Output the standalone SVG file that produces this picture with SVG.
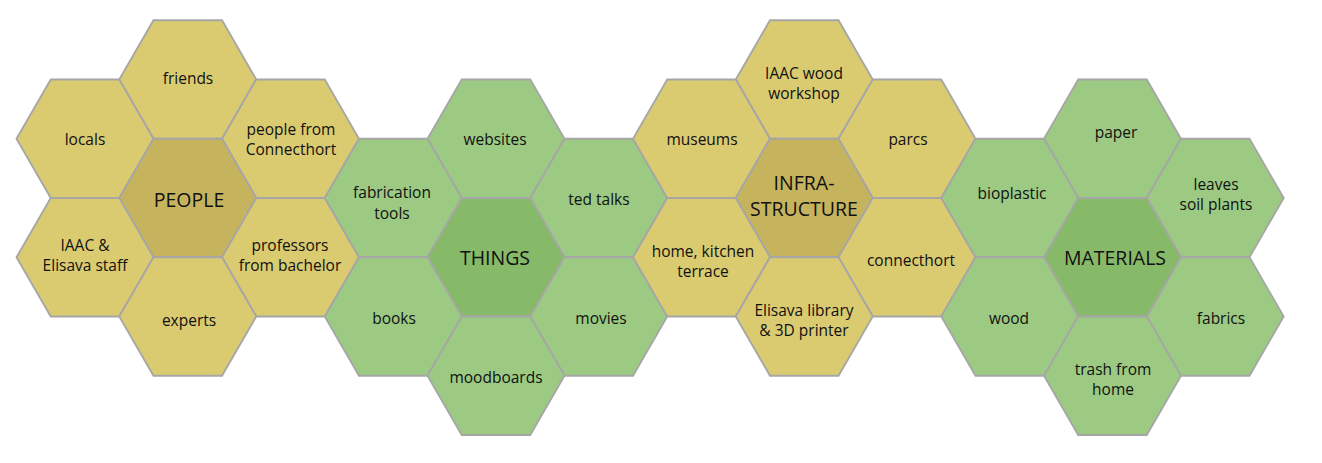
<svg xmlns="http://www.w3.org/2000/svg" xmlns:xlink="http://www.w3.org/1999/xlink" width="1322" height="463" viewBox="0 0 1322 463">
<style>
.hex{stroke:#A6A6A6;stroke-width:1.8;stroke-linejoin:miter}
.y{fill:#DACB71}
.yc{fill:#C5B45D}
.g{fill:#9CCA83}
.gc{fill:#87BA68}
text{font-family:"Open Sans","Noto Sans","Liberation Sans",sans-serif;fill:#111;text-anchor:middle}
.l{font-size:15.5px}
.t{font-size:19.5px}
</style>
<defs>
<polygon id="hx" points="-68.5,0 -34.25,-59.25 34.25,-59.25 68.5,0 34.25,59.25 -34.25,59.25"/>
</defs>
<rect width="1322" height="463" fill="#fff"/>
<g id="people-cluster">
<g id="friends"><use xlink:href="#hx" href="#hx" class="hex y" x="187.75" y="79.5"/><text class="l" x="188" y="84">friends</text></g>
<g id="locals"><use href="#hx" xlink:href="#hx" class="hex y" x="85" y="138.75"/><text class="l" x="85" y="145">locals</text></g>
<g id="people-from-connecthort"><use href="#hx" xlink:href="#hx" class="hex y" x="290.5" y="138.75"/><text class="l" x="291" y="135">people from</text><text class="l" x="291" y="155">Connecthort</text></g>
<g id="people"><use href="#hx" xlink:href="#hx" class="hex yc" x="187.75" y="198"/><text class="t" x="189" y="207">PEOPLE</text></g>
<g id="iaac-elisava-staff"><use href="#hx" xlink:href="#hx" class="hex y" x="85" y="257.25"/><text class="l" x="85" y="251">IAAC &amp;</text><text class="l" x="85" y="271">Elisava staff</text></g>
<g id="professors"><use href="#hx" xlink:href="#hx" class="hex y" x="290.5" y="257.25"/><text class="l" x="290" y="251">professors</text><text class="l" x="290" y="271">from bachelor</text></g>
<g id="experts"><use href="#hx" xlink:href="#hx" class="hex y" x="187.75" y="316.5"/><text class="l" x="189" y="326">experts</text></g>
</g>
<g id="things-cluster">
<g id="websites"><use href="#hx" xlink:href="#hx" class="hex g" x="496" y="138.75"/><text class="l" x="495" y="145">websites</text></g>
<g id="fabrication-tools"><use href="#hx" xlink:href="#hx" class="hex g" x="393.25" y="198"/><text class="l" x="392" y="198">fabrication</text><text class="l" x="392" y="219">tools</text></g>
<g id="ted-talks"><use href="#hx" xlink:href="#hx" class="hex g" x="598.75" y="198"/><text class="l" x="599" y="205">ted talks</text></g>
<g id="things"><use href="#hx" xlink:href="#hx" class="hex gc" x="496" y="257.25"/><text class="t" x="495" y="265">THINGS</text></g>
<g id="books"><use href="#hx" xlink:href="#hx" class="hex g" x="393.25" y="316.5"/><text class="l" x="394" y="324">books</text></g>
<g id="movies"><use href="#hx" xlink:href="#hx" class="hex g" x="598.75" y="316.5"/><text class="l" x="601" y="324">movies</text></g>
<g id="moodboards"><use href="#hx" xlink:href="#hx" class="hex g" x="496" y="375.75"/><text class="l" x="496" y="383">moodboards</text></g>
</g>
<g id="infra-cluster">
<g id="iaac-wood-workshop"><use href="#hx" xlink:href="#hx" class="hex y" x="804.25" y="79.5"/><text class="l" x="804" y="79">IAAC wood</text><text class="l" x="804" y="99">workshop</text></g>
<g id="museums"><use href="#hx" xlink:href="#hx" class="hex y" x="701.5" y="138.75"/><text class="l" x="702" y="145">museums</text></g>
<g id="parcs"><use href="#hx" xlink:href="#hx" class="hex y" x="907" y="138.75"/><text class="l" x="908" y="145">parcs</text></g>
<g id="infrastructure"><use href="#hx" xlink:href="#hx" class="hex yc" x="804.25" y="198"/><text class="t" x="804" y="190">INFRA-</text><text class="t" x="804" y="216">STRUCTURE</text></g>
<g id="home-kitchen-terrace"><use href="#hx" xlink:href="#hx" class="hex y" x="701.5" y="257.25"/><text class="l" x="703" y="257">home, kitchen</text><text class="l" x="703" y="277">terrace</text></g>
<g id="connecthort"><use href="#hx" xlink:href="#hx" class="hex y" x="907" y="257.25"/><text class="l" x="911" y="266">connecthort</text></g>
<g id="elisava-library"><use href="#hx" xlink:href="#hx" class="hex y" x="804.25" y="316.5"/><text class="l" x="804" y="316">Elisava library</text><text class="l" x="804" y="336">&amp; 3D printer</text></g>
</g>
<g id="materials-cluster">
<g id="paper"><use href="#hx" xlink:href="#hx" class="hex g" x="1112.5" y="138.75"/><text class="l" x="1116" y="138">paper</text></g>
<g id="bioplastic"><use href="#hx" xlink:href="#hx" class="hex g" x="1009.75" y="198"/><text class="l" x="1012" y="199">bioplastic</text></g>
<g id="leaves-soil-plants"><use href="#hx" xlink:href="#hx" class="hex g" x="1215.25" y="198"/><text class="l" x="1216" y="190">leaves</text><text class="l" x="1216" y="210">soil plants</text></g>
<g id="materials"><use href="#hx" xlink:href="#hx" class="hex gc" x="1112.5" y="257.25"/><text class="t" x="1115" y="265">MATERIALS</text></g>
<g id="wood"><use href="#hx" xlink:href="#hx" class="hex g" x="1009.75" y="316.5"/><text class="l" x="1009" y="324">wood</text></g>
<g id="fabrics"><use href="#hx" xlink:href="#hx" class="hex g" x="1215.25" y="316.5"/><text class="l" x="1221" y="324">fabrics</text></g>
<g id="trash-from-home"><use href="#hx" xlink:href="#hx" class="hex g" x="1112.5" y="375.75"/><text class="l" x="1113" y="375">trash from</text><text class="l" x="1113" y="395">home</text></g>
</g>
<g id="connectors"></g>
</svg>
